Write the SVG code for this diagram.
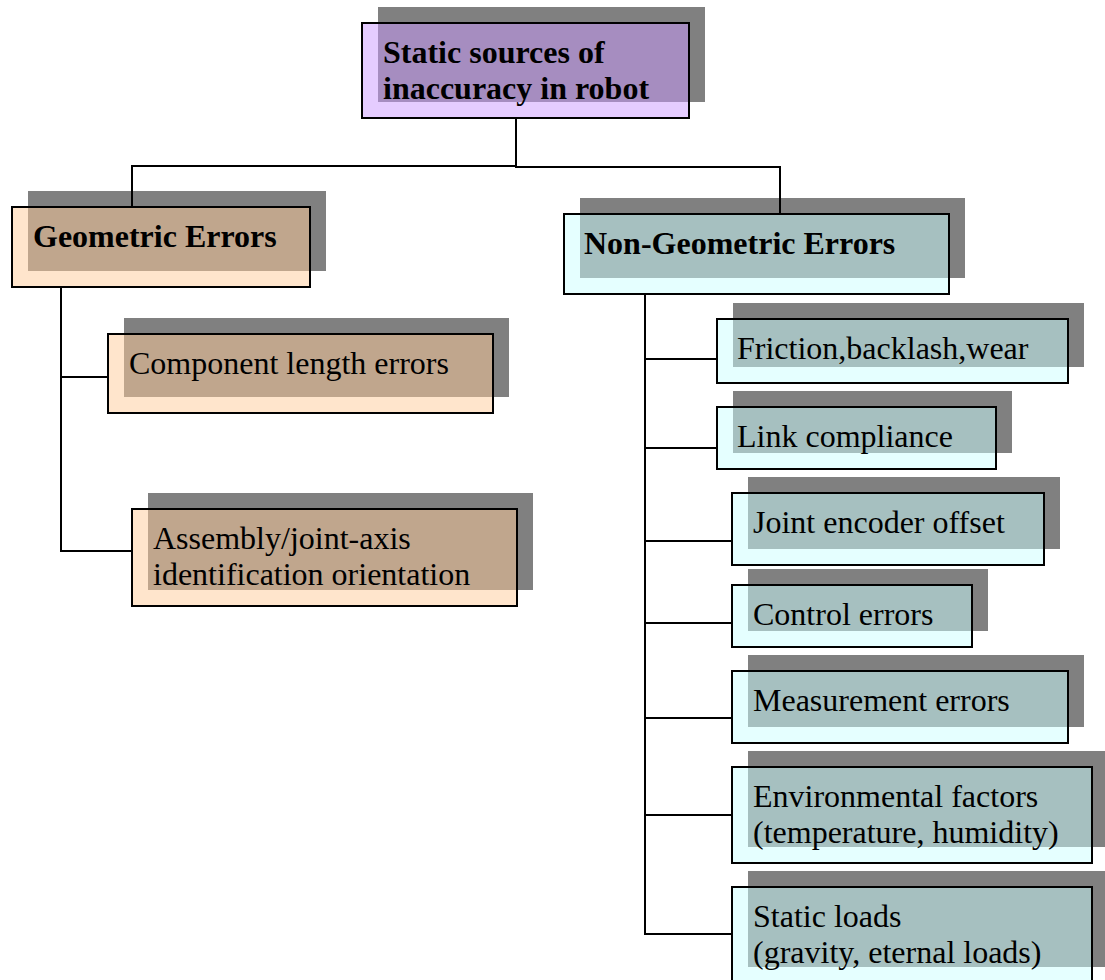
<svg xmlns="http://www.w3.org/2000/svg" width="1105" height="980" viewBox="0 0 1105 980">
<style>
.shadow{fill:#808080;}
.box{stroke:#000;stroke-width:2;fill-opacity:0.5;}
.lav{fill:#CC99FF;}
.peach{fill:#FFCC99;}
.cyan{fill:#CCFFFF;}
.t{font-family:"Liberation Serif","Times New Roman",serif;font-size:32px;fill:#000;}
.b{font-weight:bold;}
.conn{fill:none;stroke:#000;stroke-width:2;stroke-linecap:square;}
</style>
<rect width="1105" height="980" fill="#fff"/>
<g id="node-root">
<rect class="shadow" x="378" y="7" width="327" height="95"/>
<rect class="box lav" x="362" y="23" width="327" height="95"/>
<text class="t b" x="383" y="63">Static sources of</text>
<text class="t b" x="383" y="99">inaccuracy in robot</text>
</g>
<g id="node-geometric">
<rect class="shadow" x="28" y="191" width="298" height="80"/>
<rect class="box peach" x="12" y="207" width="298" height="80"/>
<text class="t b" x="33" y="247">Geometric Errors</text>
</g>
<g id="node-nongeometric">
<rect class="shadow" x="580" y="198" width="385" height="80"/>
<rect class="box cyan" x="564" y="214" width="385" height="80"/>
<text class="t b" x="584" y="254">Non-Geometric Errors</text>
</g>
<g id="node-component">
<rect class="shadow" x="124" y="318" width="385" height="79"/>
<rect class="box peach" x="108" y="334" width="385" height="79"/>
<text class="t" x="129" y="374">Component length errors</text>
</g>
<g id="node-assembly">
<rect class="shadow" x="148" y="493" width="385" height="97"/>
<rect class="box peach" x="132" y="509" width="385" height="97"/>
<text class="t" x="153" y="549">Assembly/joint-axis</text>
<text class="t" x="153" y="585">identification orientation</text>
</g>
<g id="node-friction">
<rect class="shadow" x="733" y="303" width="351" height="64"/>
<rect class="box cyan" x="717" y="319" width="351" height="64"/>
<text class="t" x="737" y="359">Friction,backlash,wear</text>
</g>
<g id="node-link">
<rect class="shadow" x="733" y="391" width="279" height="62"/>
<rect class="box cyan" x="717" y="407" width="279" height="62"/>
<text class="t" x="737" y="447">Link compliance</text>
</g>
<g id="node-joint">
<rect class="shadow" x="748" y="477" width="312" height="72"/>
<rect class="box cyan" x="732" y="493" width="312" height="72"/>
<text class="t" x="753" y="533">Joint encoder offset</text>
</g>
<g id="node-control">
<rect class="shadow" x="748" y="569" width="240" height="62"/>
<rect class="box cyan" x="732" y="585" width="240" height="62"/>
<text class="t" x="753" y="625">Control errors</text>
</g>
<g id="node-measurement">
<rect class="shadow" x="748" y="655" width="336" height="72"/>
<rect class="box cyan" x="732" y="671" width="336" height="72"/>
<text class="t" x="753" y="711">Measurement errors</text>
</g>
<g id="node-environmental">
<rect class="shadow" x="748" y="751" width="360" height="96"/>
<rect class="box cyan" x="732" y="767" width="360" height="96"/>
<text class="t" x="753" y="807">Environmental factors</text>
<text class="t" x="753" y="843">(temperature, humidity)</text>
</g>
<g id="node-staticloads">
<rect class="shadow" x="748" y="871" width="360" height="96"/>
<rect class="box cyan" x="732" y="887" width="360" height="96"/>
<text class="t" x="753" y="927">Static loads</text>
<text class="t" x="753" y="963">(gravity, eternal loads)</text>
</g>
<g id="connectors">
<path class="conn" d="M516,118 V166"/>
<path class="conn" d="M132,207 V166 H516"/>
<path class="conn" d="M516,167 H780 V214"/>
<path class="conn" d="M61,287 V551 H132"/>
<path class="conn" d="M61,377 H108"/>
<path class="conn" d="M645,294 V934 H732"/>
<path class="conn" d="M645,359 H717"/>
<path class="conn" d="M645,448 H717"/>
<path class="conn" d="M645,541 H732"/>
<path class="conn" d="M645,623 H732"/>
<path class="conn" d="M645,718 H732"/>
<path class="conn" d="M645,815 H732"/>
</g>
</svg>
